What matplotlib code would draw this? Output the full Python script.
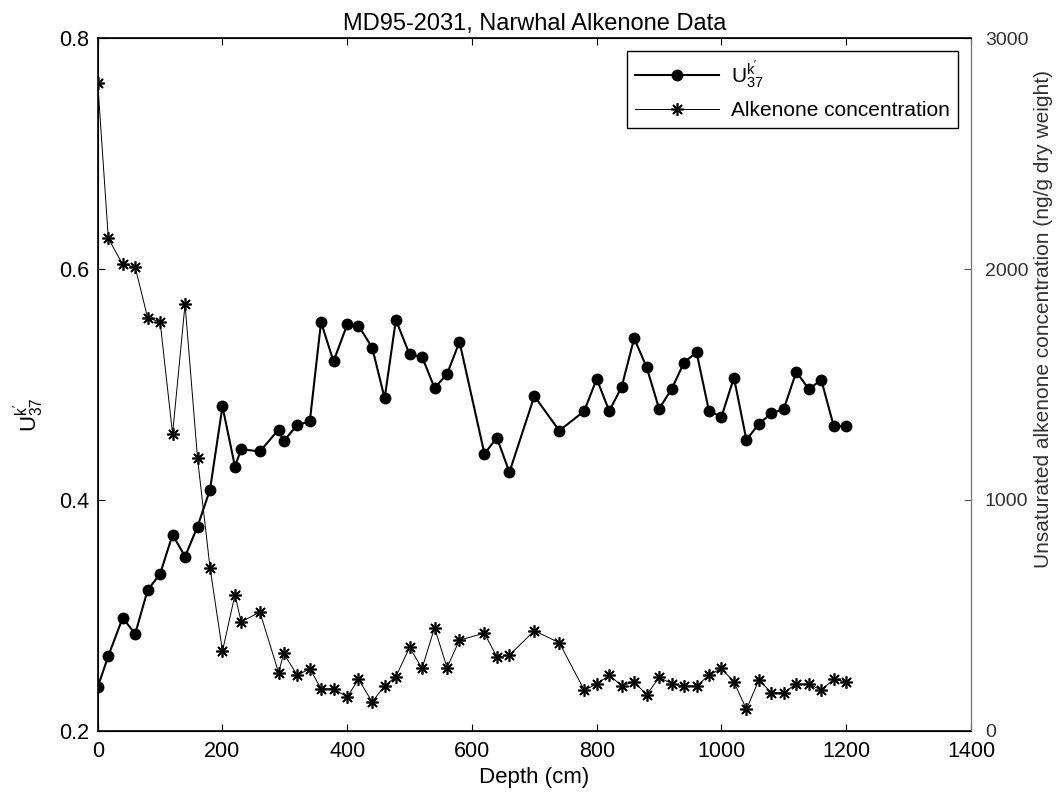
import matplotlib
matplotlib.use("Agg")
import matplotlib.pyplot as plt

plt.rcParams['font.family'] = ['Liberation Sans', 'DejaVu Sans']
plt.rcParams['mathtext.fontset'] = 'custom'
plt.rcParams['mathtext.rm'] = 'Liberation Sans'
plt.rcParams['mathtext.it'] = 'Liberation Sans'

# core depth (cm)
depth = [0, 17, 40, 60, 80, 100, 120, 140, 160, 180,
         200, 220, 230, 260, 290, 298, 320, 340, 358, 378,
         400, 418, 440, 460, 478, 500, 520, 540, 560, 580,
         620, 640, 660, 700, 740, 780, 800, 820, 840, 860,
         880, 900, 920, 940, 960, 980, 1000, 1020, 1040, 1060,
         1080, 1100, 1120, 1140, 1160, 1180, 1200]

# alkenone unsaturation index
uk37 = [0.238, 0.265, 0.298, 0.284, 0.322, 0.336, 0.370, 0.351, 0.377, 0.409,
        0.481, 0.429, 0.444, 0.442, 0.461, 0.451, 0.465, 0.468, 0.554, 0.520,
        0.552, 0.551, 0.532, 0.488, 0.556, 0.526, 0.524, 0.497, 0.509, 0.537,
        0.440, 0.454, 0.424, 0.490, 0.460, 0.477, 0.505, 0.477, 0.498, 0.540,
        0.515, 0.479, 0.496, 0.519, 0.528, 0.477, 0.472, 0.506, 0.452, 0.466,
        0.475, 0.479, 0.511, 0.496, 0.504, 0.464, 0.464]

# alkenone concentration (ng/g dry weight)
conc = [2806, 2133, 2020, 2009, 1789, 1771, 1286, 1848, 1180, 707,
        346, 589, 472, 515, 252, 336, 241, 270, 183, 183,
        147, 224, 126, 195, 235, 362, 271, 447, 274, 394,
        423, 320, 328, 434, 382, 177, 203, 241, 196, 213,
        156, 232, 205, 195, 195, 241, 271, 212, 94, 221,
        166, 166, 203, 203, 177, 224, 213]

fig = plt.figure(figsize=(10.6, 7.96), dpi=100)
ax = fig.add_axes([0.0922, 0.0817, 0.8238, 0.8705])
ax2 = ax.twinx()

l1, = ax.plot(depth, uk37, '-o', color='black', lw=1.5, ms=7.5,
              label=r"$\mathregular{U^{k'}_{37}}$")
l2, = ax2.plot(depth, conc, '-', color='black', lw=0.7, marker=(8, 2, 0),
               ms=9, mew=1.2, label='Alkenone concentration')

ax.set_xlim(0, 1400)
ax.set_ylim(0.2, 0.8)
ax2.set_ylim(0, 3000)
ax.set_xticks(range(0, 1401, 200))
ax.set_yticks([0.2, 0.4, 0.6, 0.8])
ax.set_yticklabels(['0.2', '0.4', '0.6', '0.8'])
ax2.set_yticks([0, 1000, 2000, 3000])

ax.tick_params(direction='in', top=True, labelsize=15.5, length=5)
ax.tick_params(axis='y', pad=6)
ax.tick_params(axis='x', pad=7)
ax2.tick_params(direction='in', labelsize=14, length=5, pad=10,
                colors='#555555', labelcolor='#333333')
ax2.spines['right'].set_color('#777777')
ax2.spines['right'].set_linewidth(0.8)
ax2.spines['right'].set_linestyle((0, (6, 1, 1, 1)))
for s in ['left', 'bottom', 'top']:
    ax.spines[s].set_linewidth(1.2)

ax.set_xlabel('Depth (cm)', fontsize=16, labelpad=4)
ax.set_ylabel(r"$\mathregular{U^{k'}_{37}}$", fontsize=16)
ax.yaxis.set_label_coords(-0.06, 0.456)
ax2.set_ylabel('Unsaturated alkenone concentration (ng/g dry weight)',
               fontsize=15, color='#333333')
ax2.yaxis.set_label_coords(1.072, 0.594)
ax.set_title('MD95-2031, Narwhal Alkenone Data', fontsize=17, pad=6)

leg = ax2.legend(handles=[l1, l2], loc='upper right', fontsize=15,
                 fancybox=False, framealpha=1, edgecolor='black',
                 borderaxespad=0.6, handlelength=4.0, handletextpad=0.6,
                 labelspacing=0.5)
leg.get_frame().set_linewidth(1.0)

fig.savefig('out.png', dpi=100)
